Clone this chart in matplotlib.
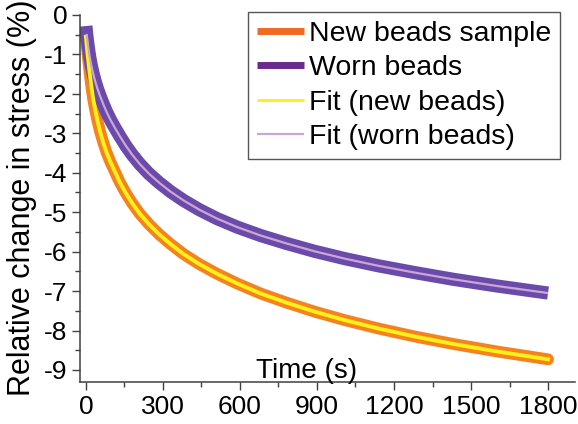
import numpy as np
import matplotlib
matplotlib.use("Agg")
import matplotlib.pyplot as plt
from matplotlib.ticker import MultipleLocator

# stress relaxation readings, time in s, change in %
t_s = [0, 3, 6, 10, 15, 21, 28, 36, 45, 55, 67, 80, 95, 112, 132, 155, 180,
       210, 245, 285, 330, 380, 440, 510, 590, 680, 780, 890, 1010, 1140,
       1280, 1430, 1600, 1800]
s_new = [-0.55, -0.76, -0.96, -1.20, -1.50, -1.80, -2.12, -2.40, -2.68, -2.95,
         -3.22, -3.48, -3.72, -3.96, -4.24, -4.51, -4.77, -5.04, -5.30, -5.56,
         -5.81, -6.06, -6.31, -6.56, -6.81, -7.06, -7.29, -7.52, -7.74, -7.95,
         -8.15, -8.34, -8.53, -8.73]
s_worn = [-0.28, -0.48, -0.65, -0.85, -1.07, -1.28, -1.48, -1.68, -1.87, -2.05,
          -2.25, -2.45, -2.65, -2.85, -3.07, -3.31, -3.54, -3.78, -4.02, -4.25,
          -4.48, -4.70, -4.93, -5.16, -5.38, -5.59, -5.79, -5.99, -6.18, -6.36,
          -6.53, -6.70, -6.87, -7.05]

labels = ["New beads sample", "Worn beads", "Fit (new beads)", "Fit (worn beads)"]
xticks = [0, 300, 600, 900, 1200, 1500, 1800]
yticks = [0, -1, -2, -3, -4, -5, -6, -7, -8, -9]

plt.rcParams["font.family"] = ["Liberation Sans", "DejaVu Sans"]
plt.rcParams["axes.unicode_minus"] = False

fig = plt.figure(figsize=(5.78, 4.24), dpi=100)
ax = fig.add_axes([80/578, 42/424, 495/578, 367/424])

ax.plot(t_s, s_new, color="#F4821F", lw=8.5, solid_capstyle="round", label=labels[0])
ax.plot(t_s, s_worn, color="#6A4BAA", lw=9.5, solid_capstyle="butt", label=labels[1])
ax.plot(t_s, s_new, color="#FFF01A", lw=2.8, label=labels[2])
ax.plot(t_s[1:], s_worn[1:], color="#C9A6D6", lw=1.6, solid_capstyle="butt", label=labels[3])

ax.set_xlim(-23, 1905)
ax.set_ylim(-9.305, 0)
ax.set_xticks(xticks)
ax.set_yticks(yticks)
ax.set_yticklabels([str(v) for v in yticks])
ax.xaxis.set_minor_locator(MultipleLocator(150))
ax.yaxis.set_minor_locator(MultipleLocator(0.5))
ax.tick_params(which="major", direction="out", length=6, width=1, color="#404040",
               labelsize=19, pad=3)
ax.tick_params(which="minor", direction="out", length=3.5, width=1, color="#404040")

for side in ["top", "right"]:
    ax.spines[side].set_visible(False)
for side in ["left", "bottom"]:
    ax.spines[side].set_color("#404040")
    ax.spines[side].set_linewidth(1.1)

fig.text(307/578, 1 - 378/424, "Time (s)", ha="center", va="baseline", fontsize=20)
fig.text(22/578, 1 - 198/424, "Relative change in stress (%)", rotation=90,
         ha="center", va="center", fontsize=22)

leg = ax.legend(loc="upper right", bbox_to_anchor=(560/578, 1 - 12/424),
                bbox_transform=fig.transFigure, borderaxespad=0, fontsize=20.5,
                frameon=True, fancybox=False, edgecolor="#555555", framealpha=1,
                handlelength=1.65, handletextpad=0.2, borderpad=0.3, labelspacing=0.3)
leg.get_frame().set_linewidth(1.0)
for h, lw, c in zip(leg.legend_handles, [5, 5, 2.2, 1.6],
                    ["#F06A25", "#6B2A8E", "#FFF01A", "#C9A6D6"]):
    h.set_linewidth(lw)
    h.set_color(c)
    h.set_solid_capstyle("butt")

fig.savefig("out.png", dpi=100)
